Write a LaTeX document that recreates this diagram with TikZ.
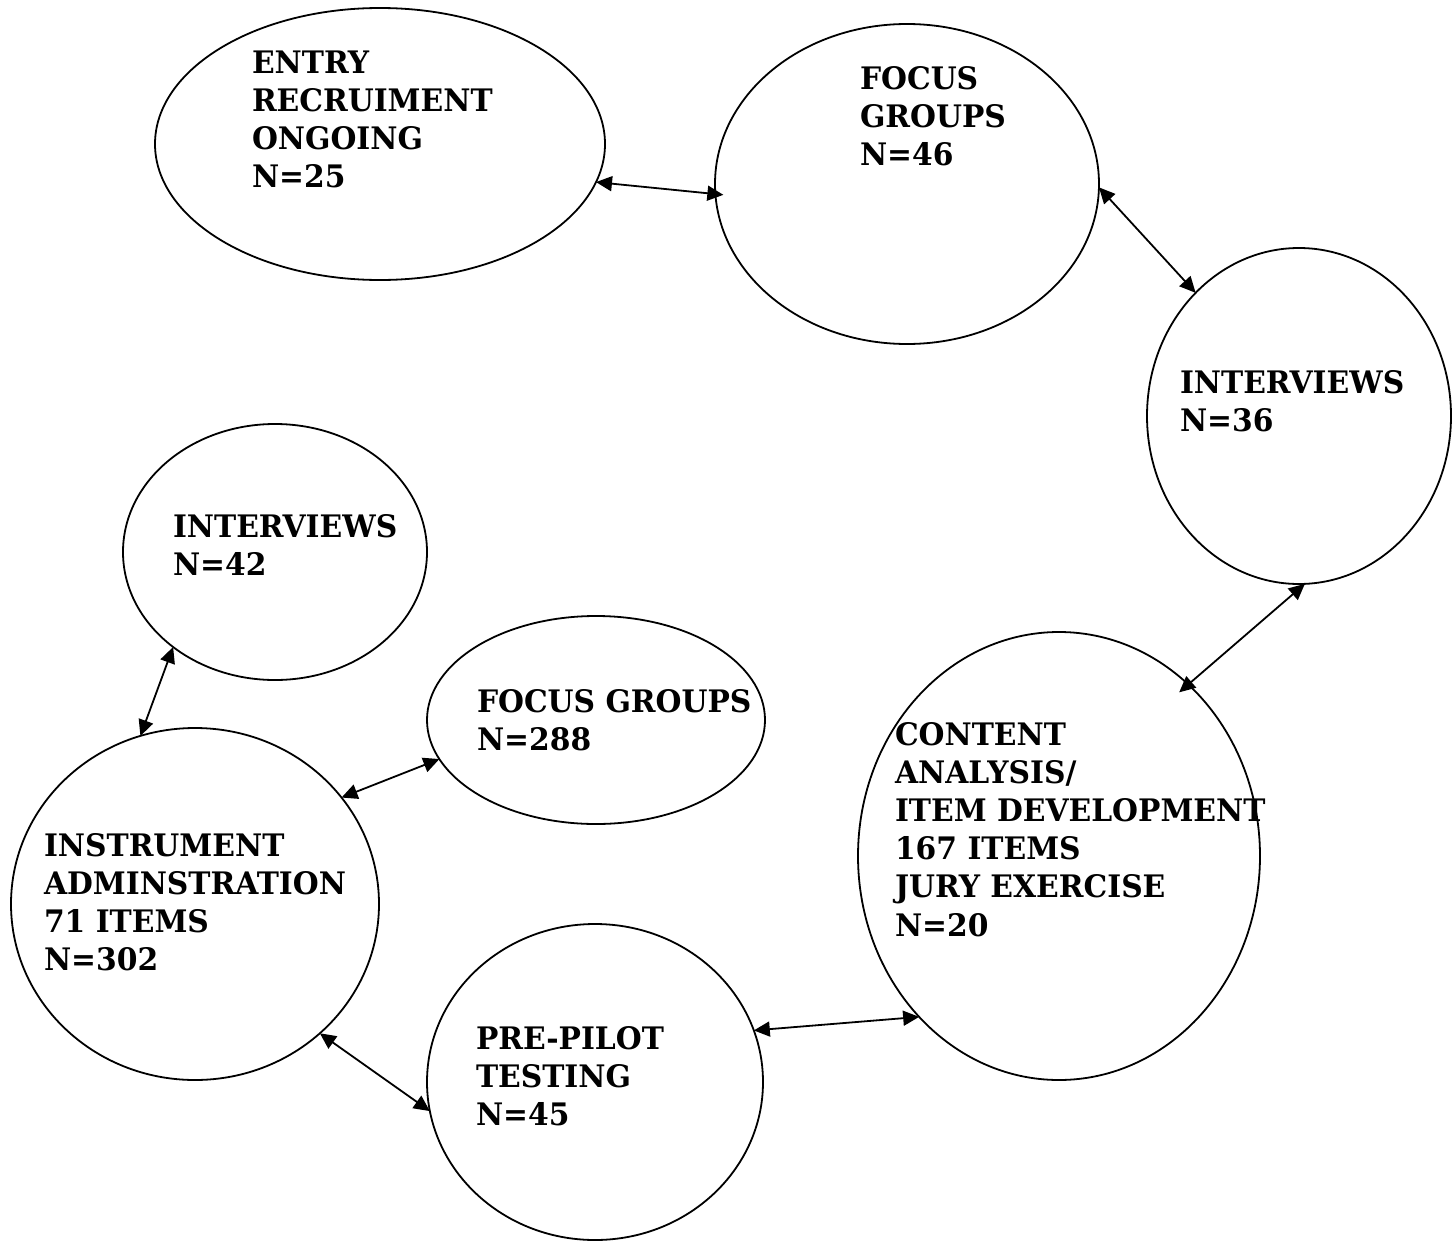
\documentclass[tikz,border=0pt]{standalone}
\usepackage{fontspec}
\setmainfont{DejaVu Serif}[FakeStretch=0.96]
\usetikzlibrary{shapes.geometric,arrows.meta}
\newcommand\mylines[1]{\begin{tabular}[t]{@{}l@{}}#1\end{tabular}}
\tikzset{
  bubble/.style={draw, ellipse, line width=0.9pt, inner sep=0pt, outer sep=0pt},
  lbl/.style={anchor=base west, inner sep=0pt, outer sep=0pt,
    font=\fontsize{15.5pt}{19.1pt}\selectfont\bfseries},
  conn/.style={{Triangle[length=8pt,width=7.5pt]}-{Triangle[length=8pt,width=7.5pt]}, line width=0.9pt},
}
\begin{document}
\begin{tikzpicture}[x=0.5pt,y=-0.5pt]
\useasboundingbox (0,0) rectangle (1456,1242);
% ellipses (centres in pixel coordinates)
\node[bubble, minimum width=225pt, minimum height=136pt] (entry) at (380,144) {};
\node[bubble, minimum width=192pt, minimum height=160pt] (fgA) at (907,184) {};
\node[bubble, minimum width=152pt, minimum height=168pt] (intA) at (1299,416) {};
\node[bubble, minimum width=152pt, minimum height=128pt] (intB) at (275,552) {};
\node[bubble, minimum width=169pt, minimum height=104pt] (fgB) at (596,720) {};
\node[bubble, minimum width=201pt, minimum height=224pt] (content) at (1059,856) {};
\node[bubble, minimum width=184pt, minimum height=176pt] (instr) at (195,904) {};
\node[bubble, minimum width=168pt, minimum height=158pt] (pilot) at (595,1082) {};
% labels
\node[lbl] (tentry) at (252,73) {\mylines{ENTRY\\RECRUIMENT\\ONGOING\\N=25}};
\node[lbl] (tfgA) at (860,89) {\mylines{FOCUS\\GROUPS\\N=46}};
\node[lbl] (tintA) at (1180,393) {\mylines{INTERVIEWS\\N=36}};
\node[lbl] (tintB) at (173,537) {\mylines{INTERVIEWS\\N=42}};
\node[lbl] (tfgB) at (477,712) {\mylines{FOCUS GROUPS\\N=288}};
\node[lbl] (tinstr) at (44,856) {\mylines{INSTRUMENT\\ADMINSTRATION\\71 ITEMS\\N=302}};
\node[lbl] (tcontent) at (895,745) {\mylines{CONTENT\\ANALYSIS/\\ITEM DEVELOPMENT\\167 ITEMS\\JURY EXERCISE\\N=20}};
\node[lbl] (tpilot) at (476,1049) {\mylines{PRE-PILOT\\TESTING\\N=45}};
% connectors
\draw[conn, shorten >=-4pt] (entry.-10) -- (fgA.183);
\draw[conn] (fgA.-1) -- (intA.130.4);
\draw[conn, shorten >=-6pt] (intA.-88) -- (content.53.1);
\draw[conn] (content.229.4) -- (pilot.18.1);
\draw[conn] (pilot.190.1) -- (instr.-46.6);
\draw[conn] (instr.36.2) -- (fgB.194.6);
\draw[conn] (instr.108.7) -- (intB.223.5);
\end{tikzpicture}
\end{document}
